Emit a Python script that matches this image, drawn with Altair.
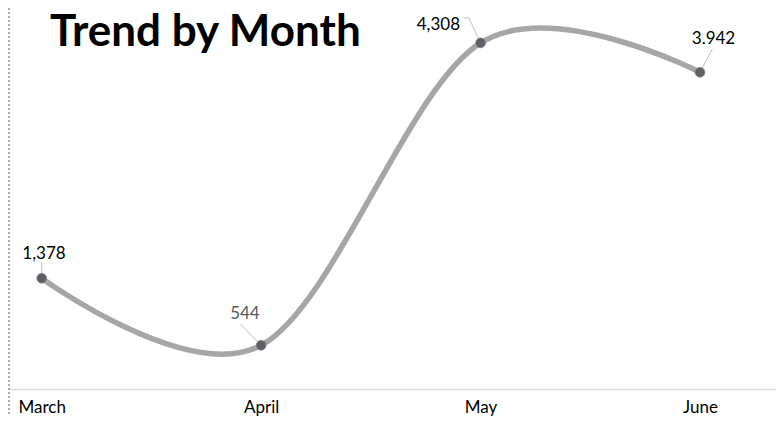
import altair as alt
import pandas as pd

# ---- data ----
months = ["March", "April", "May", "June"]
values = [1378, 544, 4308, 3942]
value_labels = ["1,378", "544", "4,308", "3.942"]
title_text = ["Trend by Month"]

# ---- layout (pixels) ----
W, H = 768, 381
PAD_B = 27
X0, X3 = 33.7, 692.0
PX_X = (X3 - X0) / 3
X_DOM = [-X0 / PX_X, (W - X0) / PX_X]
PX_Y = 0.08034
Y_DOM = [0, H / PX_Y]

label_off = [(2.3, -24.4), (-16.2, -30.9), (-42.2, -18.3), (13.5, -33.7)]
label_col = ["#000000", "#595959", "#000000", "#000000"]
leader_off = [
    [(0, 0), (0, -16)],
    [(0, 0), (-21, -21.7)],
    [(0, 0), (-11.7, -25), (-17.4, -25)],
    [(0, 0), (12.3, -23.4)],
]

pts = pd.DataFrame({"x": list(range(len(months))), "y": values})
lab = pd.DataFrame({
    "x": [i + label_off[i][0] / PX_X for i in range(len(months))],
    "y": [values[i] - label_off[i][1] / PX_Y for i in range(len(months))],
    "t": value_labels,
    "c": label_col,
})
rows = []
for i, segs in enumerate(leader_off):
    for k, (dx, dy) in enumerate(segs):
        rows.append({"id": i, "k": k, "x": i + dx / PX_X, "y": values[i] - dy / PX_Y})
lead = pd.DataFrame(rows)

label_expr = "[" + ",".join("'%s'" % m for m in months) + "][datum.value]"

X = alt.X("x:Q", scale=alt.Scale(domain=X_DOM, nice=False, zero=False),
          axis=alt.Axis(values=list(range(len(months))), labelExpr=label_expr,
                        grid=False, ticks=False, domainColor="#d9d9d9", domainWidth=1.5,
                        labelFont="Lato", labelFontSize=17, labelColor="#000000",
                        labelPadding=10, labelAngle=0, title=None))
Y = alt.Y("y:Q", scale=alt.Scale(domain=Y_DOM, nice=False), axis=None)

dotted = alt.Chart(pts).mark_rule(strokeDash=[1.5, 2.5], color="#a6a6a6", strokeWidth=1.5).encode(
    x=alt.value(1), y=alt.value(0), y2=alt.value(H + PAD_B))

line = alt.Chart(pts).mark_line(interpolate="cardinal", color="#a6a6a6", strokeWidth=5.5).encode(x=X, y=Y)

leaders = alt.Chart(lead).mark_line(color="#bfbfbf", strokeWidth=1).encode(
    x=X, y=Y, detail="id:N", order="k:Q")

points = alt.Chart(pts).mark_circle(size=95, color="#5f5f67", opacity=1,
                                    stroke="#808080", strokeWidth=0.8).encode(x=X, y=Y)

labels = alt.Chart(lab).mark_text(font="Lato", fontSize=17, align="center", baseline="middle").encode(
    x=X, y=Y, text="t:N", color=alt.Color("c:N", scale=None))

title = alt.Chart(pd.DataFrame({"t": title_text})).mark_text(
    font="Lato", fontWeight="bold", fontSize=44, align="left", baseline="alphabetic",
    color="#000000").encode(x=alt.value(42), y=alt.value(38), text="t:N")

chart = alt.layer(dotted, line, leaders, points, labels, title).properties(
    width=W, height=H, autosize="none",
    padding={"left": 0, "top": 0, "right": 0, "bottom": PAD_B},
).configure_view(stroke=None)

chart.save("out.html", embed_options={"renderer": "svg", "actions": False})
